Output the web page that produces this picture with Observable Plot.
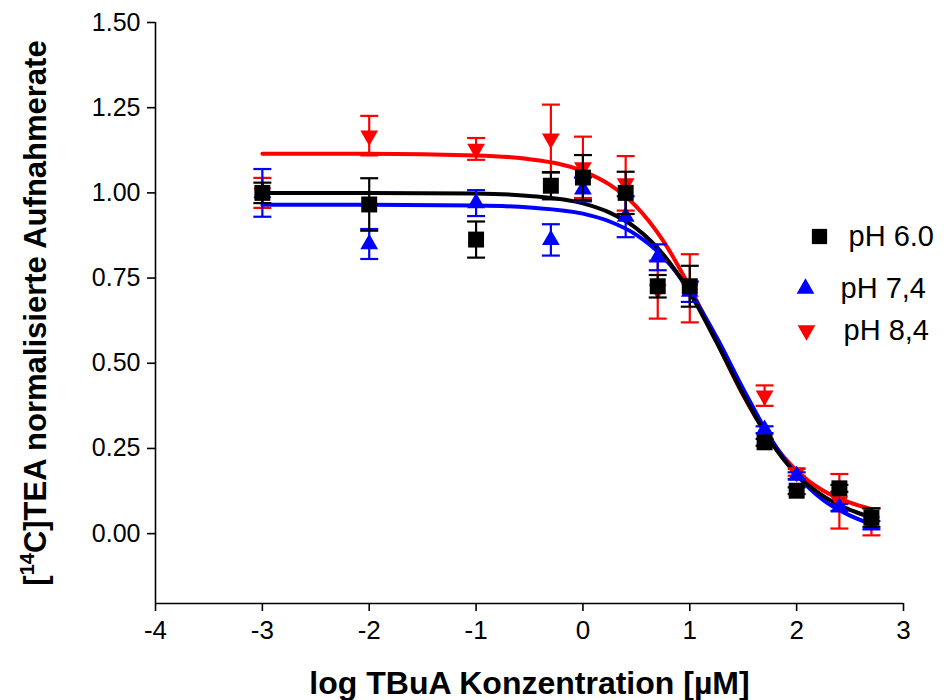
<!DOCTYPE html>
<html>
<head>
<meta charset="utf-8">
<script src="https://cdn.jsdelivr.net/npm/d3@7"></script>
<script src="https://cdn.jsdelivr.net/npm/@observablehq/plot@0.6"></script>
<style>
  body { margin: 0; background: #ffffff; }
  #chart { width: 944px; height: 700px; }
</style>
</head>
<body>
<div id="chart"></div>
<script>
// ---- data ----
const xVals = [-3, -2, -1, -0.3, 0, 0.4, 0.7, 1, 1.7, 2, 2.4, 2.7]; // log TBuA [µM]

const ph60Mean = [1.000, 0.966, 0.863, 1.021, 1.045, 1.000, 0.726, 0.726, 0.268, 0.126, 0.133, 0.047];
const ph60Err  = [0.030, 0.077, 0.053, 0.040, 0.066, 0.062, 0.033, 0.060, 0.010, 0.010, 0.010, 0.027];

const ph74Mean = [1.000, 0.850, 0.970, 0.862, 1.010, 0.930, 0.811, 0.710, 0.305, 0.170, 0.077, 0.025];
const ph74Err  = [0.070, 0.044, 0.038, 0.046, 0.035, 0.060, 0.038, 0.030, 0.010, 0.010, 0.010, 0.012];

const ph84Mean = [1.000, 1.168, 1.129, 1.159, 1.075, 1.028, 0.716, 0.720, 0.405, 0.180, 0.095, 0.035];
const ph84Err  = [0.044, 0.058, 0.032, 0.100, 0.090, 0.080, 0.085, 0.100, 0.030, 0.010, 0.080, 0.040];

// fitted curves, read at these x positions
const curveX = [-3, -2, -1, -0.5, 0, 0.25, 0.5, 0.75, 1, 1.25, 1.5, 1.75, 2, 2.25, 2.5, 2.7];
const fit60 = [1.000, 1.000, 0.998, 0.991, 0.969, 0.942, 0.896, 0.820, 0.707, 0.562, 0.408, 0.273, 0.174, 0.110, 0.070, 0.048];
const fit74 = [0.965, 0.965, 0.963, 0.957, 0.939, 0.916, 0.877, 0.812, 0.712, 0.577, 0.425, 0.283, 0.173, 0.098, 0.053, 0.028];
const fit84 = [1.115, 1.115, 1.110, 1.099, 1.064, 1.024, 0.960, 0.860, 0.723, 0.564, 0.406, 0.277, 0.185, 0.126, 0.091, 0.072];

const seriesNames = ["pH 6.0", "pH 7,4", "pH 8,4"];
const xTicks = [-4, -3, -2, -1, 0, 1, 2, 3];
const yTicks = [0, 0.25, 0.5, 0.75, 1.0, 1.25, 1.5];
const xDomain = [-4, 3];
const yDomain = [-0.205, 1.5];
const xTitle = "log TBuA Konzentration [µM]";
const yTitle = "[14C]TEA normalisierte Aufnahmerate";

// ---- symbols ----
const capSymbol = {
  draw(ctx, size) { const w = Math.sqrt(size / Math.PI); ctx.moveTo(-w, 0); ctx.lineTo(w, 0); }
};
const triDown = {
  draw(ctx, size) {
    const y = Math.sqrt(size / (3 * Math.sqrt(3)));
    ctx.moveTo(0, 2 * y);
    ctx.lineTo(-Math.sqrt(3) * y, -y);
    ctx.lineTo(Math.sqrt(3) * y, -y);
    ctx.closePath();
  }
};

const series = [
  {name: seriesNames[2], color: "#ff0000", mean: ph84Mean, err: ph84Err, fit: fit84, symbol: triDown, r: 6.6},
  {name: seriesNames[1], color: "#0000ff", mean: ph74Mean, err: ph74Err, fit: fit74, symbol: "triangle", r: 6.6},
  {name: seriesNames[0], color: "#000000", mean: ph60Mean, err: ph60Err, fit: fit60, symbol: "square", r: 9}
];

function pts(s) {
  return xVals.map((x, i) => ({x, y: s.mean[i], lo: s.mean[i] - s.err[i], hi: s.mean[i] + s.err[i]}));
}
function curvePts(s) {
  return curveX.map((x, i) => ({x, y: s.fit[i]}));
}

const marks = [];
// axis lines
marks.push(Plot.ruleX([xDomain[0]], {stroke: "#000", strokeWidth: 1.6}));
marks.push(Plot.ruleY([yDomain[0]], {stroke: "#000", strokeWidth: 1.6}));
marks.push(Plot.axisX({ticks: xTicks, tickSize: 8, tickPadding: 9, tickFormat: d => String(d), label: null, fontSize: 26, strokeWidth: 1.6}));
marks.push(Plot.axisY({ticks: yTicks, tickSize: 8, tickPadding: 7, tickFormat: d3.format(".2f"), label: null, fontSize: 25, strokeWidth: 1.6}));

// curves
for (const s of series) {
  marks.push(Plot.line(curvePts(s), {x: "x", y: "y", stroke: s.color, strokeWidth: 4, curve: "monotone-x"}));
}
// error bars + markers
for (const s of series) {
  const d = pts(s);
  marks.push(Plot.ruleX(d, {x: "x", y1: "lo", y2: "hi", stroke: s.color, strokeWidth: 2.2}));
  marks.push(Plot.dot(d, {x: "x", y: "lo", symbol: capSymbol, r: 9, stroke: s.color, strokeWidth: 2.2, fill: "none"}));
  marks.push(Plot.dot(d, {x: "x", y: "hi", symbol: capSymbol, r: 9, stroke: s.color, strokeWidth: 2.2, fill: "none"}));
  marks.push(Plot.dot(d, {x: "x", y: "y", symbol: s.symbol, r: s.r, fill: s.color, stroke: "none"}));
}

// legend
const legendLayout = [
  {sym: "square", r: 8.6, color: "#000000", mdx: 664, tdx: 693, dy: 214},
  {sym: "triangle", r: 6.6, color: "#0000ff", mdx: 650, tdx: 685, dy: 266},
  {sym: triDown, r: 6.6, color: "#ff0000", mdx: 651, tdx: 688, dy: 308}
];
legendLayout.forEach((L, i) => {
  marks.push(Plot.dot([seriesNames[i]], {frameAnchor: "top-left", dx: L.mdx, dy: L.dy, symbol: L.sym, r: L.r, fill: L.color, stroke: "none"}));
  marks.push(Plot.text([seriesNames[i]], {frameAnchor: "top-left", dx: L.tdx, dy: L.dy, text: d => d, textAnchor: "start", lineAnchor: "middle", fontSize: 29, fill: "#000"}));
});

// axis titles
marks.push(Plot.text([xTitle], {frameAnchor: "bottom", dy: 80, text: d => d, fontSize: 32, fontWeight: "bold", lineAnchor: "middle", fill: "#000"}));
marks.push(Plot.text([yTitle], {frameAnchor: "left", dx: -119, rotate: -90, text: d => d, fontSize: 31, fontWeight: "bold", lineAnchor: "middle", textAnchor: "middle", fill: "#000"}));

const chart = Plot.plot({
  width: 944,
  height: 700,
  marginLeft: 155,
  marginRight: 41,
  marginTop: 22,
  marginBottom: 97,
  style: {fontFamily: "'Liberation Sans', Arial, Helvetica, sans-serif", fontSize: "25px", color: "#000", background: "#fff", overflow: "visible"},
  x: {domain: xDomain},
  y: {domain: yDomain},
  marks
});

// superscript "14" in the y title
d3.select(chart).selectAll("text").each(function() {
  if (this.textContent === yTitle) {
    const t = d3.select(this);
    t.text(null);
    t.append("tspan").text("[");
    t.append("tspan").attr("font-size", 20).attr("dy", -12).text("14");
    t.append("tspan").attr("dy", 12).text("C]TEA normalisierte Aufnahmerate");
  }
});

document.getElementById("chart").appendChild(chart);
</script>
</body>
</html>
